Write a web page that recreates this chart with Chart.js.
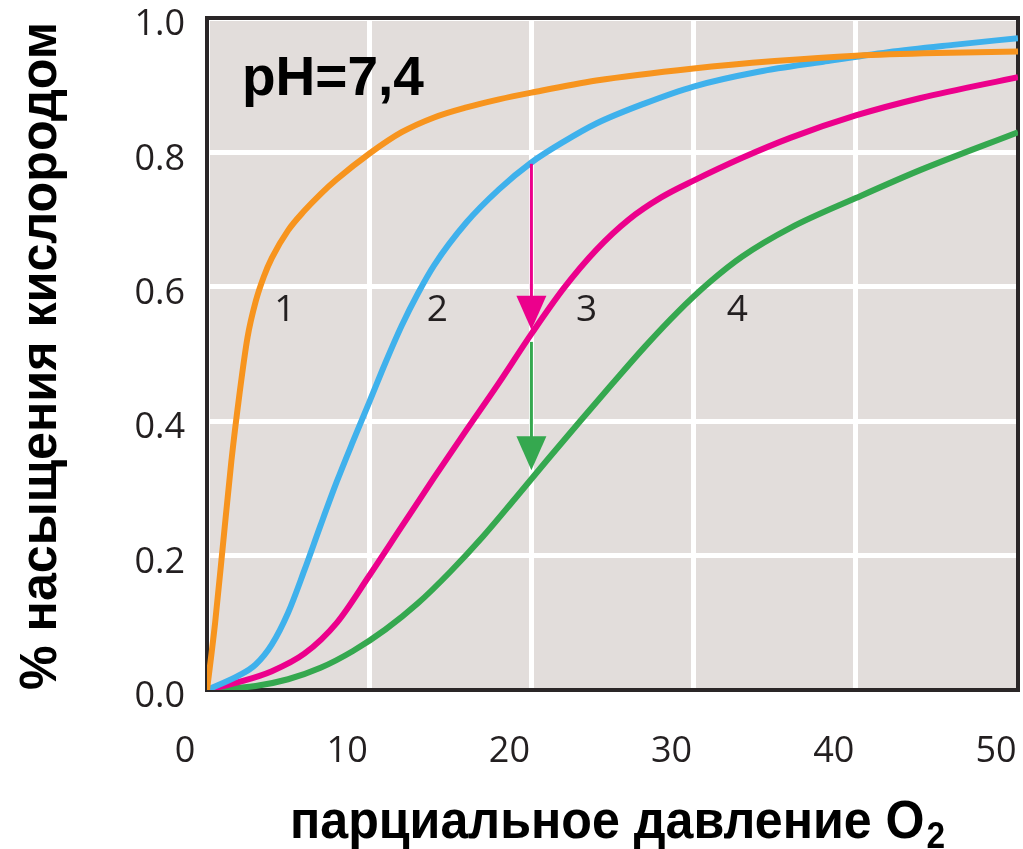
<!DOCTYPE html>
<html lang="ru">
<head>
<meta charset="utf-8">
<title>Кривые насыщения кислородом</title>
<script src="https://cdn.jsdelivr.net/npm/chart.js"></script>
<style>
    html, body { margin: 0; padding: 0; background: #fff; }
    canvas { display: block; }
</style>
</head>
<body>
<canvas id="chartSaturacao" width="1023" height="849"></canvas>
<script>
// парциальное давление O2 (ось X) и насыщение (ось Y) для каждой кривой
const pO2Curve1 = [0, 0.5, 1.0, 1.5, 2.0, 2.5, 3.0, 3.5, 4.0, 5.0, 6.0, 7.0, 8.0, 10, 12, 14, 16, 18, 20, 24, 30, 35, 40, 45, 50];
const satCurve1 = [0, 0.10, 0.22, 0.34, 0.44, 0.525, 0.578, 0.615, 0.643, 0.684, 0.713, 0.738, 0.76, 0.798, 0.83, 0.852, 0.867, 0.879, 0.889, 0.907, 0.925, 0.936, 0.944, 0.948, 0.95];

const pO2Curve2 = [0, 2, 3, 4, 5, 6, 7, 8, 9, 10, 11, 12, 13, 14, 16, 18, 20, 22, 24, 27, 30, 34, 38, 42, 46, 50];
const satCurve2 = [0, 0.022, 0.038, 0.068, 0.115, 0.178, 0.245, 0.31, 0.37, 0.428, 0.487, 0.542, 0.59, 0.632, 0.696, 0.745, 0.785, 0.816, 0.843, 0.873, 0.898, 0.92, 0.935, 0.949, 0.96, 0.97];

const pO2Curve3 = [0, 2, 4, 6, 8, 10, 12, 14, 16, 18, 20, 22, 24, 26, 28, 30, 33, 36, 40, 44, 50];
const satCurve3 = [0, 0.012, 0.028, 0.054, 0.1, 0.17, 0.243, 0.316, 0.387, 0.457, 0.53, 0.598, 0.655, 0.7, 0.733, 0.758, 0.792, 0.822, 0.855, 0.881, 0.912];

const pO2Curve4 = [0, 3, 5, 7, 9, 11, 13, 15, 17, 19, 21, 23, 25, 27, 29, 31, 33, 36, 40, 44, 50];
const satCurve4 = [0, 0.006, 0.016, 0.033, 0.058, 0.09, 0.129, 0.176, 0.228, 0.285, 0.343, 0.4, 0.456, 0.511, 0.562, 0.607, 0.645, 0.688, 0.732, 0.774, 0.83];

const curveNames = ['1', '2', '3', '4'];
const curveColors = ['#f7941e', '#3fb1ec', '#ec008c', '#35a84f'];
const curveLabelX = [4.8, 14.2, 23.4, 32.7];
const curveLabelY = [0.565, 0.565, 0.565, 0.565];

// стрелки: сдвиг кривой при x = 20
const arrowX = [20, 20];
const arrowFrom = [0.783, 0.518];
const arrowTo = [0.536, 0.327];
const arrowColors = ['#ec008c', '#35a84f'];

const xTicks = [0, 10, 20, 30, 40, 50];
const yTicks = [0, 0.2, 0.4, 0.6, 0.8, 1.0];

const phText = 'pH=7,4';
const xTitle = 'парциальное давление O';
const xTitleSub = '2';
const yTitle = '% насыщения кислородом';

const INK = '#231f20';

function toPoints(xs, ys) {
    return xs.map((x, i) => ({ x, y: ys[i] }));
}

function noAutoPadding(scale) {
    scale.paddingLeft = 0;
    scale.paddingRight = 0;
    scale.paddingTop = 0;
    scale.paddingBottom = 0;
}

const plotFrame = {
    id: 'plotFrame',
    beforeDraw(chart) {
        const { ctx, chartArea: a } = chart;
        ctx.save();
        ctx.fillStyle = '#e2dddb';
        ctx.fillRect(a.left, a.top, a.right - a.left, a.bottom - a.top);
        ctx.restore();
    },
    beforeDatasetsDraw(chart) {
        const { ctx, chartArea: a } = chart;
        ctx.save();
        ctx.strokeStyle = '#2a2627';
        ctx.lineWidth = 4;
        ctx.strokeRect(a.left, a.top, a.right - a.left, a.bottom - a.top);
        ctx.restore();
    },
};

const annotations = {
    id: 'annotations',
    afterDatasetsDraw(chart) {
        const { ctx, scales: { x, y } } = chart;
        ctx.save();

        // стрелки
        arrowX.forEach((ax, i) => {
            const px = x.getPixelForValue(ax);
            const y0 = y.getPixelForValue(arrowFrom[i]);
            const y1 = y.getPixelForValue(arrowTo[i]);
            const head = 34;
            ctx.strokeStyle = arrowColors[i];
            ctx.fillStyle = arrowColors[i];
            ctx.lineWidth = 3;
            ctx.beginPath();
            ctx.moveTo(px, y0);
            ctx.lineTo(px, y1 - head + 2);
            ctx.stroke();
            ctx.beginPath();
            ctx.moveTo(px - 15, y1 - head);
            ctx.lineTo(px + 15, y1 - head);
            ctx.lineTo(px, y1);
            ctx.closePath();
            ctx.fill();
        });

        // номера кривых
        ctx.fillStyle = INK;
        ctx.font = '37px "Open Sans"';
        ctx.textAlign = 'center';
        ctx.textBaseline = 'middle';
        curveNames.forEach((name, i) => {
            ctx.fillText(name, x.getPixelForValue(curveLabelX[i]), y.getPixelForValue(curveLabelY[i]));
        });

        ctx.restore();
    },
    afterDraw(chart) {
        const { ctx, chartArea: a } = chart;
        ctx.save();
        ctx.fillStyle = '#000';
        ctx.textBaseline = 'alphabetic';

        // pH
        ctx.font = 'bold 55px "Liberation Sans", Arial, sans-serif';
        ctx.textAlign = 'left';
        ctx.fillText(phText, a.left + 35, a.top + 77);

        // подпись оси X с индексом
        ctx.save();
        ctx.font = 'bold 54px "Liberation Sans", Arial, sans-serif';
        const w1 = ctx.measureText(xTitle).width;
        ctx.font = 'bold 36px "Liberation Sans", Arial, sans-serif';
        const w2 = ctx.measureText(xTitleSub).width;
        const s = 655 / (w1 + w2 + 2);
        ctx.translate(290, 838);
        ctx.scale(s, 1);
        ctx.font = 'bold 54px "Liberation Sans", Arial, sans-serif';
        ctx.fillText(xTitle, 0, 0);
        ctx.font = 'bold 36px "Liberation Sans", Arial, sans-serif';
        ctx.fillText(xTitleSub, w1 + 2, 10);
        ctx.restore();

        // подпись оси Y
        ctx.save();
        ctx.font = 'bold 52px "Liberation Sans", Arial, sans-serif';
        const wy = ctx.measureText(yTitle).width;
        ctx.translate(56, 356);
        ctx.rotate(-Math.PI / 2);
        ctx.scale(668 / wy, 1);
        ctx.textAlign = 'center';
        ctx.fillText(yTitle, 0, 0);
        ctx.restore();

        ctx.restore();
    },
};

function initChart() {
    const canvas = document.getElementById('chartSaturacao');
    const series = [
        [pO2Curve1, satCurve1],
        [pO2Curve2, satCurve2],
        [pO2Curve3, satCurve3],
        [pO2Curve4, satCurve4],
    ];

    // eslint-disable-next-line no-new
    new Chart(canvas, {
        type: 'line',
        data: {
            datasets: series.map(([xs, ys], i) => ({
                label: curveNames[i],
                data: toPoints(xs, ys),
                borderColor: curveColors[i],
                borderWidth: 6,
                pointRadius: 0,
                fill: false,
                cubicInterpolationMode: 'monotone',
            })),
        },
        options: {
            responsive: false,
            animation: false,
            events: [],
            layout: { padding: { top: 18, right: 5, left: 0, bottom: 0 } },
            plugins: {
                legend: { display: false },
                tooltip: { enabled: false },
                title: { display: false },
            },
            scales: {
                x: {
                    type: 'linear',
                    min: 0,
                    max: 50,
                    afterBuildTicks: (scale) => { scale.ticks = xTicks.map((v) => ({ value: v })); },
                    afterFit: (scale) => { scale.height = 159; noAutoPadding(scale); },
                    grid: { color: '#ffffff', lineWidth: 5, drawTicks: false },
                    border: { display: false },
                    ticks: {
                        padding: 40,
                        labelOffset: -22,
                        color: INK,
                        font: { family: 'Open Sans', size: 36 },
                        callback: (v) => String(v),
                    },
                },
                y: {
                    type: 'linear',
                    min: 0,
                    max: 1,
                    afterBuildTicks: (scale) => { scale.ticks = yTicks.map((v) => ({ value: v })); },
                    afterFit: (scale) => { scale.width = 207; noAutoPadding(scale); },
                    grid: { color: '#ffffff', lineWidth: 5, drawTicks: false },
                    border: { display: false },
                    ticks: {
                        padding: 22,
                        labelOffset: 7,
                        color: INK,
                        font: { family: 'Open Sans', size: 36 },
                        callback: (v) => Number(v).toFixed(1),
                    },
                },
            },
        },
        plugins: [plotFrame, annotations],
    });
}

if (document.readyState === 'loading') {
    document.addEventListener('DOMContentLoaded', initChart);
} else {
    initChart();
}
</script>
</body>
</html>
